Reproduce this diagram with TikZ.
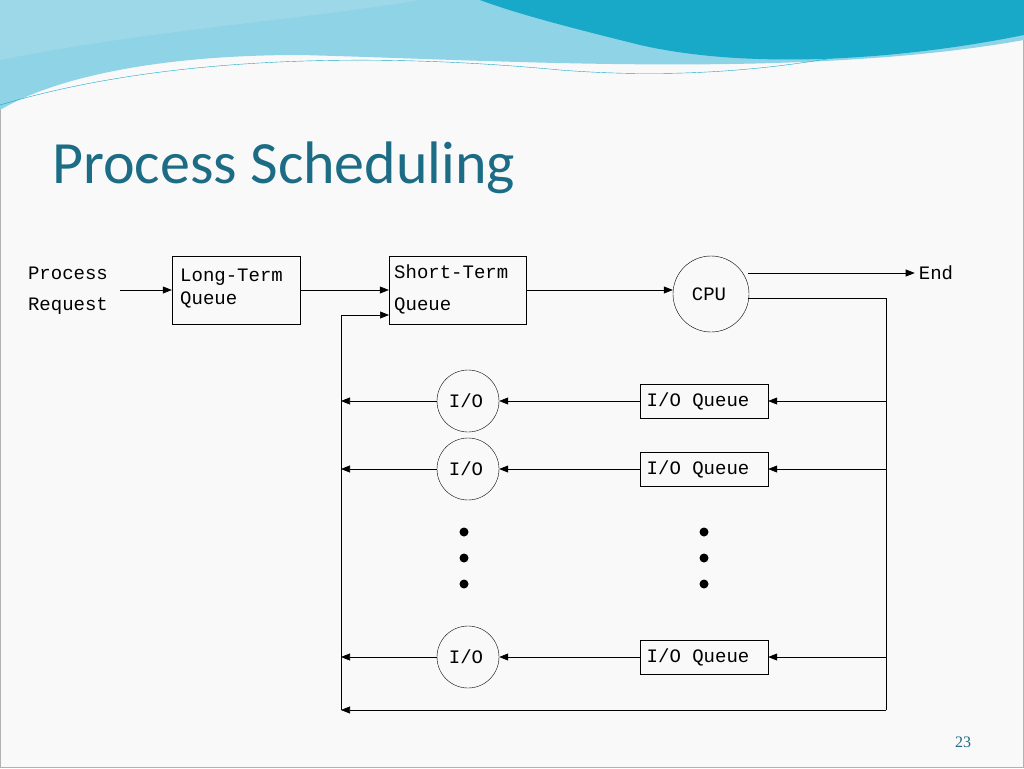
\documentclass[tikz,border=0pt]{standalone}
\usepackage{fontspec}
\setmainfont{Carlito}
\newfontfamily\monofont{Liberation Mono}
\newfontfamily\pagefont{Liberation Serif}
\usetikzlibrary{positioning}
\usetikzlibrary{arrows.meta}
\definecolor{titleteal}{HTML}{1B6C84}
\definecolor{wavea}{HTML}{8FD3E6}
\definecolor{waveb}{HTML}{18A8C8}
\definecolor{wavec}{HTML}{5BBFD9}
\begin{document}
\begin{tikzpicture}[x=1pt,y=-1pt,
  every node/.style={font=\monofont\fontsize{19}{22}\selectfont,inner sep=0pt},
  qbox/.style={draw,minimum width=128pt,minimum height=34pt},
  proc/.style={draw,circle,minimum size=62pt},
  flow/.style={-{Triangle[length=9pt,width=7pt]},semithick},
  link/.style={semithick},
  dot/.style={circle,fill,minimum size=9pt}]
\useasboundingbox (0,0) rectangle (1024,768);
\fill[gray!5] (0,0) rectangle (1024,768);
\draw[gray!60] (0.5,0.5) rectangle (1023.5,767.5);
% header waves
\fill[wavea] (0,0) -- (1024,0) -- (1024,40) .. controls (800,80) and (500,60) .. (300,55) .. controls (150,55) and (50,80) .. (0,110) -- cycle;
\fill[waveb] (480,0) -- (1024,0) -- (1024,35) .. controls (900,60) and (750,70) .. (640,45) .. controls (580,30) and (520,15) .. (480,0) -- cycle;
\fill[wavec!60] (0,0) -- (420,0) .. controls (300,20) and (150,30) .. (0,60) -- cycle;
\draw[waveb,thin] (0,105) .. controls (150,60) and (350,50) .. (560,70) .. controls (750,85) and (900,50) .. (1024,10);
\node[font=\fontsize{60}{66}\selectfont,text=titleteal,anchor=west] (title) at (52,168) {Process Scheduling};
% flow
\node (req1) at (68,273) {Process};
\node (req2) at (68,306) {Request};
\node[qbox,minimum height=68pt] (ltq) at (236,290) {};
\node[anchor=west] (ltq1) at (180,277) {Long-Term};
\node[anchor=west] (ltq2) at (180,300) {Queue};
\node[qbox,minimum width=137pt,minimum height=68pt] (stq) at (457.5,290) {};
\node[anchor=west] (stq1) at (394,272) {Short-Term};
\node[anchor=west] (stq2) at (394,306) {Queue};
\node[proc,minimum size=76pt] (cpu) at (711,294) {};
\node (cput) at (709,294) {CPU};
\node (end) at (936,273) {End};
\coordinate (req) at (120,290);
\draw[flow] (req) -- (ltq.west);
\draw[flow] (ltq.east) -- (stq.west);
\draw[flow] (stq.east) -- (cpu.west |- stq.east);
\coordinate (cpuout) at (748,273);
\draw[flow] (cpuout) -- ([xshift=-4pt]end.west);
\coordinate (cpuret) at (748,298);
\coordinate (rtop) at (886,298);
\coordinate (rbot) at (886,710);
\coordinate (lbot) at (341,710);
\coordinate (ltop) at (341,315);
\coordinate (stqin) at (389,315);
\draw[link] (cpuret) -- (rtop) -- (rbot);
\draw[flow] (rbot) -- (lbot);
\draw[link] (lbot) -- (ltop);
\draw[flow] (ltop) -- (stqin);
\foreach \n/\y in {a/401,b/469,c/657}{
  \node[qbox] (ioq\n) at (704,\y) {};
  \node (ioqt\n) at (698,\y) {I/O Queue};
  \node[proc] (io\n) at (468,\y) {};
  \node (iot\n) at (466,\y) {I/O};
  \coordinate (ioin\n) at (886,\y);
  \coordinate (ioout\n) at (341,\y);
  \draw[flow] (ioin\n) -- (ioq\n.east);
  \draw[flow] (ioq\n.west) -- (io\n.east);
  \draw[flow] (io\n.west) -- (ioout\n);
}
\foreach \y in {532,558,584}{
  \node[dot] at (464,\y) {};
  \node[dot] at (704,\y) {};
}
\node[font=\pagefont\fontsize{16}{18}\selectfont,text=titleteal] (page) at (963,742) {23};
\end{tikzpicture}
\end{document}
